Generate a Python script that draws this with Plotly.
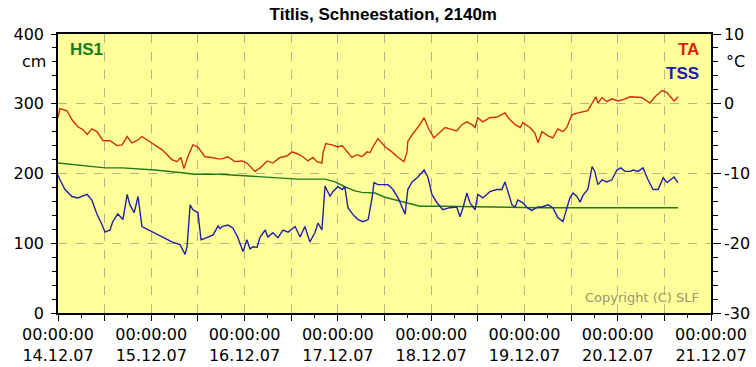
import plotly.graph_objects as go
import pandas as pd

title = "Titlis, Schneestation, 2140m"
start = "2007-12-14 00:00"
end = "2007-12-21 00:00"
day_labels = ["14.12.07", "15.12.07", "16.12.07", "17.12.07",
              "18.12.07", "19.12.07", "20.12.07", "21.12.07"]
time_label = "00:00:00"
left_ticks = [0, 100, 200, 300, 400]
right_ticks = [-30, -20, -10, 0, 10]
right_tick_text = ["-30", "-20", "-10", "0", "10"]

# HS1 snow height (cm), hours since 14.12.07 00:00
hs1_hours = [0, 7.7, 12.1, 16.5, 25, 31.9, 35.2, 41.7, 44.8, 53.3, 61.7, 68.7,
             71.3, 73.8, 76.4, 78.2, 81.6, 84.1, 86.7, 89.3, 93.1, 98.8, 107.3,
             115.8, 123.5, 131.2, 136.9, 137.6, 138.9, 159.5]
hs1_cm = [215, 211, 208, 208, 205, 201, 199, 199, 198, 195, 192, 192,
          188, 181, 175, 173, 172, 166, 162, 158, 153, 153, 152,
          152, 151, 151, 151, 152, 151, 151]

# TA air temperature (°C)
ta_hours = [0, 0.5, 2.3, 3.6, 5.1, 6.4, 7.5, 8.7, 10.0, 11.6, 13.4, 15.2, 16.5,
            17.8, 19.0, 20.3, 21.6, 24.2, 26.8, 29.3, 30.6, 31.6, 32.4, 33.4,
            34.7, 36.0, 37.8, 39.6, 41.2, 42.2, 43.7, 45.5, 47.3, 48.6, 49.4,
            50.7, 52.0, 53.8, 55.3, 57.1, 58.9, 60.2, 61.7, 63.0, 64.3, 65.6,
            66.6, 67.9, 68.2, 68.9, 70.5, 72.0, 73.1, 74.3, 75.6, 76.9, 78.2,
            79.5, 80.3, 81.0, 82.3, 84.2, 85.9, 87.5, 89.0, 89.8, 90.0, 91.3,
            93.1, 94.2, 95.2, 96.7, 98.3, 99.6, 100.8, 102.6, 103.9, 105.2,
            106.5, 107.3, 108.0, 109.3, 111.1, 112.9, 115.0, 115.8, 117.6,
            118.9, 119.6, 121.4, 122.7, 123.5, 124.5, 126.1, 127.3, 128.6,
            129.9, 130.9, 132.2, 133.8, 136.3, 137.6, 138.4, 138.9, 140.0,
            141.2, 142.5, 144.1, 145.4, 147.2, 148.4, 150.2, 152.3, 153.6,
            155.4, 156.7, 157.4, 158.5, 159.5]
ta_c = [-2.0, -0.7, -1.0, -2.3, -3.3, -3.7, -4.4, -3.6, -4.0, -5.3, -5.3, -6.0, -5.9,
        -4.7, -5.6, -5.3, -4.7, -5.7, -6.6, -8.0, -8.3, -7.7, -9.3, -7.6,
        -5.9, -6.2, -7.6, -7.7, -7.9, -7.9, -7.6, -8.3, -8.2, -8.5, -9.0,
        -9.7, -9.2, -8.2, -8.5, -7.7, -7.5, -6.9, -7.2, -7.6, -8.2, -7.7,
        -8.3, -8.5, -7.0, -5.7, -5.9, -6.2, -6.0, -6.9, -7.7, -7.3, -7.6,
        -6.9, -7.0, -6.2, -5.0, -6.2, -6.9, -7.7, -8.3, -6.9, -5.4, -4.3,
        -3.0, -2.0, -3.4, -4.9, -4.0, -3.4, -3.6, -3.9, -3.0, -2.6,
        -3.0, -3.4, -2.0, -2.6, -2.0, -1.9, -1.3, -2.0, -3.0,
        -3.4, -2.7, -3.4, -4.2, -5.6, -4.0, -4.6, -4.9, -3.6,
        -4.0, -3.4, -1.6, -1.3, -1.0, 0.3, 1.0, 0.1, 0.9,
        0.3, 0.7, 0.4, 0.6, 1.0, 1.0, 0.9, 0.1, 1.0,
        1.9, 1.6, 1.1, 0.4, 1.0]

# TSS snow surface temperature (°C)
tss_hours = [0, 0.5, 1.8, 3.6, 5.1, 7.5, 8.7, 10.0, 11.3, 12.1, 13.4, 14.1, 15.4,
             16.7, 17.8, 18.5, 19.6, 20.6, 21.6, 24.2, 26.8, 29.3, 31.4, 32.7,
             33.2, 34.0, 34.7, 36.0, 36.8, 38.3, 39.9, 41.2, 41.7, 42.2, 43.7,
             45.0, 46.3, 47.6, 48.6, 49.4, 50.2, 51.2, 52.0, 53.3, 54.0, 55.3,
             56.6, 57.9, 59.2, 61.0, 62.3, 63.5, 64.8, 66.1, 66.9, 67.9, 68.7,
             70.0, 70.7, 72.0, 73.1, 73.8, 74.6, 75.9, 77.2, 78.5, 79.8, 80.8,
             81.3, 82.3, 84.9, 86.2, 87.5, 88.5, 89.3, 90.0, 91.1, 92.4, 94.2,
             95.2, 96.2, 97.5, 99.0, 100.8, 102.6, 103.4, 104.2, 105.2, 106.0,
             107.3, 108.0, 109.3, 111.1, 112.9, 114.2, 115.0, 115.8, 116.8,
             117.6, 118.3, 119.6, 120.7, 121.9, 123.5, 124.5, 126.1, 127.3,
             128.6, 129.9, 130.9, 131.7, 132.5, 133.5, 134.3, 135.1, 136.3,
             137.4, 138.1, 138.9, 140.0, 141.2, 142.5, 143.8, 144.8, 145.9,
             147.2, 147.9, 149.2, 150.5, 151.8, 153.1, 154.4, 155.7, 156.7,
             157.4, 158.5, 159.5]
tss_c = [-10.2, -10.9, -12.3, -13.3, -13.5, -13.0, -13.8, -15.8, -17.3, -18.4, -18.1, -16.9, -15.8,
         -16.6, -13.0, -14.5, -15.6, -13.3, -17.6, -18.4, -19.1, -19.8, -20.2, -21.6,
         -20.5, -14.5, -15.2, -15.6, -19.5, -19.2, -18.8, -17.5, -17.9, -17.6, -17.4,
         -17.8, -19.2, -21.2, -19.5, -20.8, -20.5, -20.6, -19.1, -18.1, -19.1, -18.5,
         -19.2, -18.1, -18.4, -17.6, -19.1, -17.6, -19.8, -18.5, -17.1, -18.1, -11.8,
         -13.3, -12.6, -11.9, -12.3, -11.9, -14.9, -15.9, -16.6, -16.9, -16.6, -13.5,
         -11.3, -11.6, -11.6, -12.3, -13.5, -14.8, -15.8, -12.3, -11.2, -10.6, -9.5,
         -10.6, -13.0, -14.2, -15.2, -14.9, -14.8, -16.2, -14.9, -12.8, -14.2,
         -15.2, -13.0, -13.5, -12.6, -12.3, -12.3, -11.2, -12.6, -14.5,
         -14.8, -13.8, -14.2, -14.9, -15.3, -14.8, -14.8, -14.5, -14.9,
         -16.3, -16.9, -15.2, -13.5, -12.8, -13.3, -14.1, -13.1, -12.3,
         -9.0, -9.7, -11.6, -10.9, -11.2, -10.9, -9.5, -9.2, -9.7,
         -9.7, -9.5, -9.7, -9.2, -10.9, -12.3, -12.3, -10.6, -11.3,
         -11.0, -10.5, -11.3]

t0 = pd.Timestamp(start)
def to_time(hours):
    return t0 + pd.to_timedelta(hours, unit="h")

# tick positions every 12 h, labels at midnight
tick_times = pd.date_range(start, end, freq="12h")
tick_text = []
i = 0
for t in tick_times:
    if t.hour == 0:
        tick_text.append(time_label + "<br>" + day_labels[i])
        i += 1
    else:
        tick_text.append("")

GRID = "#b8b28a"
FONT = "DejaVu Sans"
SIX_H = 6 * 3600000

fig = go.Figure()
fig.add_trace(go.Scatter(x=to_time(hs1_hours), y=hs1_cm, mode="lines",
                         line=dict(color="#1f7a1f", width=1.4), yaxis="y", name="HS1"))
fig.add_trace(go.Scatter(x=to_time(tss_hours), y=tss_c, mode="lines",
                         line=dict(color="#2020a8", width=1.4), yaxis="y2", name="TSS"))
fig.add_trace(go.Scatter(x=to_time(ta_hours), y=ta_c, mode="lines",
                         line=dict(color="#cc3010", width=1.4), yaxis="y2", name="TA"))

fig.update_layout(
    width=756, height=367,
    margin=dict(l=58, r=45, t=34, b=54),
    paper_bgcolor="white",
    plot_bgcolor="#ffff99",
    showlegend=False,
    font=dict(family=FONT, size=16, color="black"),
    title=dict(text="<b>" + title + "</b>", x=0.507, xanchor="center", y=0.962, yanchor="middle",
               font=dict(family="Liberation Sans", size=17, color="black")),
    xaxis=dict(type="date", range=[start, end], tickvals=tick_times, ticktext=tick_text,
               showgrid=True, gridcolor=GRID, griddash="dash", gridwidth=1,
               ticks="outside", ticklen=6, tickwidth=1.2, tickcolor="black",
               showline=True, linecolor="black", linewidth=1.5, mirror=True,
               zeroline=False, tickangle=0, automargin=False,
               minor=dict(dtick=SIX_H, tick0=start, ticks="outside", ticklen=3,
                          tickcolor="black", showgrid=False)),
    xaxis2=dict(type="date", range=[start, end], overlaying="x", anchor="y", side="bottom",
                tickvals=tick_times, showticklabels=False, showgrid=False, zeroline=False,
                ticks="inside", ticklen=3, tickwidth=1.2, tickcolor="black", automargin=False,
                showline=False),
    yaxis=dict(range=[0, 400], tickvals=left_ticks,
               showgrid=True, gridcolor=GRID, griddash="dash", gridwidth=1,
               ticks="outside", ticklen=5, tickwidth=1.2, tickcolor="black",
               showline=True, linecolor="black", linewidth=1.5, zeroline=False,
               ticklabelstandoff=4, automargin=False,
               minor=dict(dtick=20, ticks="outside", ticklen=4, tickcolor="black", showgrid=False)),
    yaxis3=dict(range=[0, 400], overlaying="y", anchor="x", side="left", tickvals=left_ticks,
                showticklabels=False, showgrid=False, zeroline=False, showline=False,
                ticks="inside", ticklen=5, tickwidth=1.2, tickcolor="black", automargin=False,
                minor=dict(dtick=20, ticks="inside", ticklen=3, tickcolor="black", showgrid=False)),
    yaxis2=dict(range=[-30, 10], tickvals=right_ticks, ticktext=right_tick_text,
                overlaying="y", side="right", anchor="x",
                showgrid=False, ticks="outside", ticklen=8, tickwidth=1.2, tickcolor="black",
                showline=True, linecolor="black", linewidth=1.5, zeroline=False, automargin=False,
                minor=dict(dtick=2, ticks="outside", ticklen=5, tickcolor="black", showgrid=False)),
)

annos = [
    dict(text="cm", xref="paper", yref="y", x=-0.037, y=360, xanchor="center", yanchor="middle",
         font=dict(family=FONT, size=16, color="black")),
    dict(text="°C", xref="paper", yref="y2", x=1.037, y=6, xanchor="center", yanchor="middle",
         font=dict(family=FONT, size=16, color="black")),
    dict(text="<b>HS1</b>", xref="paper", yref="paper", x=0.015, y=0.943, xanchor="left", yanchor="middle",
         font=dict(family="Liberation Sans", size=17, color="#1a7a1a")),
    dict(text="<b>TA</b>", xref="paper", yref="paper", x=0.985, y=0.943, xanchor="right", yanchor="middle",
         font=dict(family="Liberation Sans", size=17, color="#e02010")),
    dict(text="<b>TSS</b>", xref="paper", yref="paper", x=0.985, y=0.86, xanchor="right", yanchor="middle",
         font=dict(family="Liberation Sans", size=17, color="#1a1ab4")),
    dict(text="Copyright (C) SLF", xref="paper", yref="paper", x=0.985, y=0.055, xanchor="right",
         yanchor="middle", font=dict(family=FONT, size=13, color="#9a9670")),
]
for a in annos:
    a["showarrow"] = False
    fig.add_annotation(**a)

fig.write_html("out.html", config={"displayModeBar": False},
               post_script="document.body.style.margin='0';")
